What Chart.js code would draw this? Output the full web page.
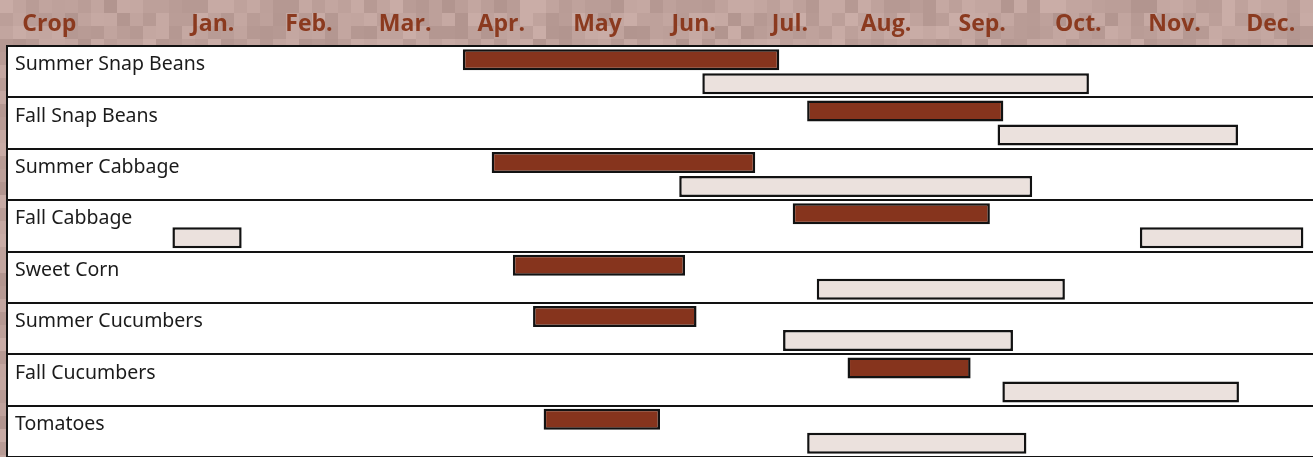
<!DOCTYPE html>
<html>
<head>
<meta charset="utf-8">
<script src="https://cdn.jsdelivr.net/npm/chart.js@4/dist/chart.umd.min.js"></script>
<style>
  html, body { margin: 0; padding: 0; background: #fff; overflow: hidden; }
  canvas { display: block; }
</style>
</head>
<body>
<canvas id="calendar" width="1313" height="457"></canvas>
<script>
// Crops, one row each
const crops = [
  'Summer Snap Beans', 'Fall Snap Beans', 'Summer Cabbage', 'Fall Cabbage',
  'Sweet Corn', 'Summer Cucumbers', 'Fall Cucumbers', 'Tomatoes'
];

// Times in months counted from Jan. 1 (0 = start of Jan., 12 = end of Dec.)
const plantStart = [3.10, 6.68, 3.40, 6.53, 3.62, 3.83, 7.10, 3.94];
const plantEnd   = [6.39, 8.72, 6.14, 8.58, 5.41, 5.53, 8.38, 5.15];

const harvestStart = [5.59, 8.66, 5.35, 10.14, 6.78, 6.43, 8.71, 6.68];
const harvestEnd   = [9.61, 11.16, 9.02, 11.84, 9.36, 8.82, 11.17, 8.96];

// Harvest that carries over into January
const winterHarvestStart = [null, null, null, 0.08, null, null, null, null];
const winterHarvestEnd   = [null, null, null, 0.80, null, null, null, null];

// Header row: the "Crop" column heading, then the months
const headerLabels = ['Crop', 'Jan.', 'Feb.', 'Mar.', 'Apr.', 'May', 'Jun.',
                      'Jul.', 'Aug.', 'Sep.', 'Oct.', 'Nov.', 'Dec.'];
const headerTickValues = [-1.2, 0.5, 1.5, 2.5, 3.5, 4.5, 5.5, 6.5, 7.5, 8.5, 9.5, 10.5, 11.5];

const toRange = (starts, ends) =>
  starts.map((s, i) => (s === null ? null : [s, ends[i]]));

// Mottled tan band behind the header and down the left edge
const headerBand = {
  id: 'headerBand',
  beforeDraw(chart) {
    const { ctx, chartArea, width, height } = chart;
    const tile = 13;
    ctx.save();
    ctx.beginPath();
    ctx.rect(0, 0, width, chartArea.top);
    ctx.rect(0, chartArea.top, chartArea.left, height - chartArea.top);
    ctx.clip();
    for (let ty = 0; ty * tile < height; ty++) {
      for (let tx = 0; tx * tile < width; tx++) {
        const h = (((tx + 7) * 2654435761) ^ ((ty + 3) * 40503)) >>> 0;
        const d = ((h >>> 8) % 25) - 12;
        const r = 190 + d, g = 161 + d, b = 155 + d;
        ctx.fillStyle = `rgb(${r},${g},${b})`;
        ctx.fillRect(tx * tile, ty * tile, tile, tile);
      }
    }
    ctx.restore();
  }
};

const barStyle = {
  borderColor: '#121212',
  borderWidth: 2.5,
  borderSkipped: false,
  categoryPercentage: 0.934,
  barPercentage: 0.875
};

new Chart(document.getElementById('calendar'), {
  type: 'bar',
  data: {
    labels: crops,
    datasets: [
      Object.assign({ label: 'Planting', stack: 'plant',
        data: toRange(plantStart, plantEnd), backgroundColor: '#86341d' }, barStyle),
      Object.assign({ label: 'Harvest', stack: 'harvest',
        data: toRange(harvestStart, harvestEnd), backgroundColor: '#ebe1dd' }, barStyle),
      Object.assign({ label: 'Harvest (Jan.)', stack: 'harvest',
        data: toRange(winterHarvestStart, winterHarvestEnd), backgroundColor: '#ebe1dd' }, barStyle)
    ]
  },
  options: {
    indexAxis: 'y',
    responsive: false,
    animation: false,
    devicePixelRatio: 1,
    layout: { padding: { left: 7, top: 0, right: 0, bottom: 0 } },
    plugins: { legend: { display: false }, tooltip: { enabled: false } },
    scales: {
      x: {
        type: 'linear',
        position: 'top',
        min: -1.64,
        max: 11.94,
        stacked: false,
        grid: { display: false, drawTicks: false },
        border: { display: true, color: '#121212', width: 2 },
        afterBuildTicks: (scale) => {
          scale.ticks = headerTickValues.map((v) => ({ value: v }));
        },
        afterFit: (scale) => {
          scale.height = 46;
          scale.paddingLeft = 0;
          scale.paddingRight = 0;
        },
        ticks: {
          autoSkip: false,
          maxRotation: 0,
          padding: 8,
          color: '#8b3a1f',
          font: { family: 'Open Sans', size: 23, weight: 'bold' },
          callback: (value, index) => headerLabels[index]
        }
      },
      y: {
        type: 'category',
        offset: true,
        grid: { offset: true, color: '#121212', lineWidth: 2, drawTicks: false },
        border: { display: true, color: '#121212', width: 2 },
        afterFit: (scale) => {
          scale.width = 0;
          scale.paddingTop = 0;
          scale.paddingBottom = 0;
        },
        ticks: {
          mirror: true,
          padding: 8,
          labelOffset: -7,
          color: '#1b1b1b',
          font: { family: 'Noto Sans', size: 19.5 }
        }
      }
    }
  },
  plugins: [headerBand]
});
</script>
</body>
</html>
